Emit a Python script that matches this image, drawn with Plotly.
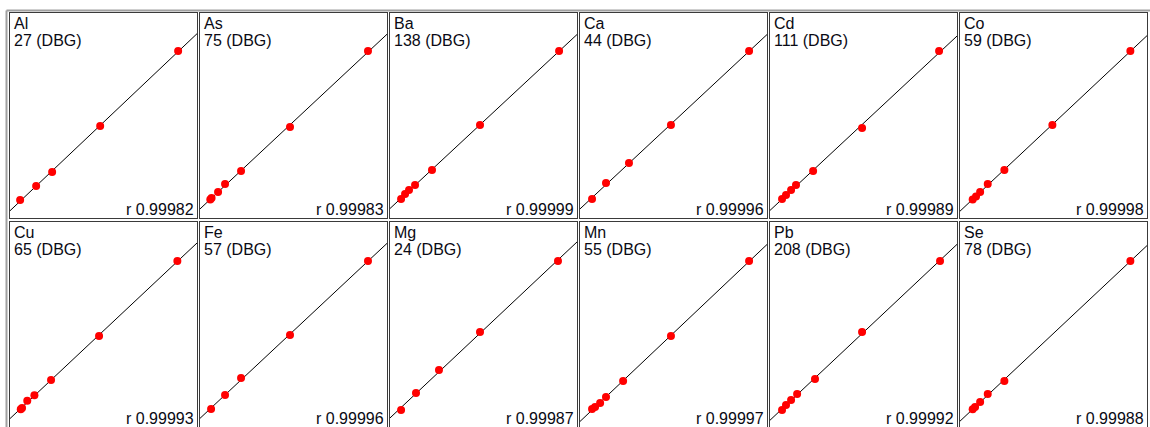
import plotly.graph_objects as go
import numpy as np

W, H = 1150, 427

elements = ["Al", "As", "Ba", "Ca", "Cd", "Co", "Cu", "Fe", "Mg", "Mn", "Pb", "Se"]
isotopes = ["27 (DBG)", "75 (DBG)", "138 (DBG)", "44 (DBG)", "111 (DBG)", "59 (DBG)",
            "65 (DBG)", "57 (DBG)", "24 (DBG)", "55 (DBG)", "208 (DBG)", "78 (DBG)"]
r_values = ["0.99982", "0.99983", "0.99999", "0.99996", "0.99989", "0.99998",
            "0.99993", "0.99996", "0.99987", "0.99997", "0.99992", "0.99988"]

# concentration (x) and relative intensity (y) of calibration standards
conc_Al = [0.7, 10.8, 20.9, 51.2, 100.4]
int_Al = [0.1, 9.5, 18.9, 49.7, 100.1]
conc_As = [0.8, 1.6, 5.7, 10.1, 20.2, 51.1, 100.3]
int_As = [0.5, 1.4, 5.4, 10.8, 19.5, 49.1, 100.1]
conc_Ba = [1.3, 3.8, 6.3, 10.1, 20.8, 51.1, 101.0]
int_Ba = [0.8, 4.1, 6.8, 10.1, 20.2, 50.4, 100.1]
conc_Ca = [1.9, 10.7, 25.2, 51.7, 101.0]
int_Ca = [0.8, 11.5, 24.9, 50.4, 100.1]
conc_Cd = [1.9, 4.4, 7.6, 10.7, 21.5, 52.4, 101.0]
int_Cd = [0.8, 3.4, 6.8, 10.1, 19.5, 48.4, 100.1]
conc_Co = [2.3, 4.4, 7.0, 11.8, 22.3, 52.6, 101.8]
int_Co = [0.5, 2.4, 5.4, 10.8, 20.2, 50.4, 100.1]
conc_Cu = [1.1, 1.9, 5.2, 9.7, 20.2, 50.5, 99.9]
int_Cu = [-0.1, 0.8, 5.7, 9.3, 19.5, 49.1, 99.4]
conc_Fe = [1.3, 10.1, 20.2, 51.1, 100.3]
int_Fe = [0.1, 9.5, 20.9, 49.7, 99.4]
conc_Mg = [1.3, 10.7, 25.2, 51.1, 100.3]
int_Mg = [-0.6, 10.8, 26.3, 51.8, 99.4]
conc_Mn = [1.9, 3.8, 7.0, 10.7, 21.5, 51.7, 101.0]
int_Mn = [0.1, 1.4, 4.1, 8.1, 18.9, 49.1, 99.4]
conc_Pb = [1.9, 4.4, 7.6, 11.4, 22.7, 52.4, 101.6]
int_Pb = [-0.6, 2.8, 6.1, 10.1, 20.2, 51.8, 99.4]
conc_Se = [2.3, 3.8, 7.0, 11.8, 22.3, 101.8]
int_Se = [-0.1, 1.4, 4.8, 10.1, 18.9, 99.4]

conc = [conc_Al, conc_As, conc_Ba, conc_Ca, conc_Cd, conc_Co,
        conc_Cu, conc_Fe, conc_Mg, conc_Mn, conc_Pb, conc_Se]
inten = [int_Al, int_As, int_Ba, int_Ca, int_Cd, int_Co,
         int_Cu, int_Fe, int_Mg, int_Mn, int_Pb, int_Se]

X_RANGE = [-5.7, 112.3]
Y_RANGE = [-12.0, 125.6]

# panel layout (pixels)
col_left = [10, 200, 390, 580, 770, 960]
panel_w = 187
row_top = [13, 222]
panel_h = 205

fig = go.Figure()
layout = dict(width=W, height=H, margin=dict(l=0, r=0, t=0, b=0),
              paper_bgcolor="white", plot_bgcolor="white", showlegend=False)
annotations = []
shapes = []
FONT = "Liberation Sans, Arial, sans-serif"
TXT = "#0a0a14"

for i, el in enumerate(elements):
    r, c = divmod(i, 6)
    L = col_left[c]
    R = L + panel_w
    T = row_top[r]
    B = T + panel_h
    n = i + 1
    xa = "x" if n == 1 else f"x{n}"
    ya = "y" if n == 1 else f"y{n}"
    xk = "xaxis" if n == 1 else f"xaxis{n}"
    yk = "yaxis" if n == 1 else f"yaxis{n}"
    axcommon = dict(showgrid=False, zeroline=False, showticklabels=False, ticks="",
                    showline=True, mirror=True, linecolor="#3a3a3a", linewidth=1,
                    fixedrange=True)
    layout[xk] = dict(domain=[L / W, R / W], range=X_RANGE, anchor=ya, **axcommon)
    layout[yk] = dict(domain=[1 - min(B, H) / H, 1 - T / H], range=Y_RANGE, anchor=xa, **axcommon)

    xs = np.array(conc[i]); ys = np.array(inten[i])
    slope, icpt = np.polyfit(xs, ys, 1)
    lx = np.array(X_RANGE)
    fig.add_trace(go.Scatter(x=lx, y=slope * lx + icpt, mode="lines",
                             line=dict(color="black", width=1), xaxis=xa, yaxis=ya,
                             hoverinfo="skip"))
    fig.add_trace(go.Scatter(x=xs, y=ys, mode="markers",
                             marker=dict(color="#ff0000", size=8, line=dict(width=0)),
                             xaxis=xa, yaxis=ya))
    annotations.append(dict(xref="paper", yref="paper", x=(L + 2) / W, y=1 - (T - 0.5) / H,
                            xanchor="left", yanchor="top", text=el, showarrow=False,
                            font=dict(family=FONT, size=16, color=TXT)))
    annotations.append(dict(xref="paper", yref="paper", x=(L + 2) / W, y=1 - (T + 17.5) / H,
                            xanchor="left", yanchor="top", text=isotopes[i], showarrow=False,
                            font=dict(family=FONT, size=16, color=TXT)))
    annotations.append(dict(xref="paper", yref="paper", x=(R - 1) / W, y=1 - (B + 2) / H,
                            xanchor="right", yanchor="bottom", text="r " + r_values[i],
                            showarrow=False,
                            font=dict(family=FONT, size=16, color=TXT)))

# outer frame lines
shapes.append(dict(type="line", xref="paper", yref="paper", x0=6.5 / W, x1=6.5 / W,
                   y0=0, y1=1 - 10.5 / H, line=dict(color="#a0a0a0", width=2)))
shapes.append(dict(type="line", xref="paper", yref="paper", x0=6.5 / W, x1=1,
                   y0=1 - 10.5 / H, y1=1 - 10.5 / H, line=dict(color="#a0a0a0", width=2)))

layout["annotations"] = annotations
layout["shapes"] = shapes
fig.update_layout(**layout)
fig.write_html("out.html", config={"displayModeBar": False},
               post_script="document.body.style.margin='0';document.body.style.overflow='hidden';")
